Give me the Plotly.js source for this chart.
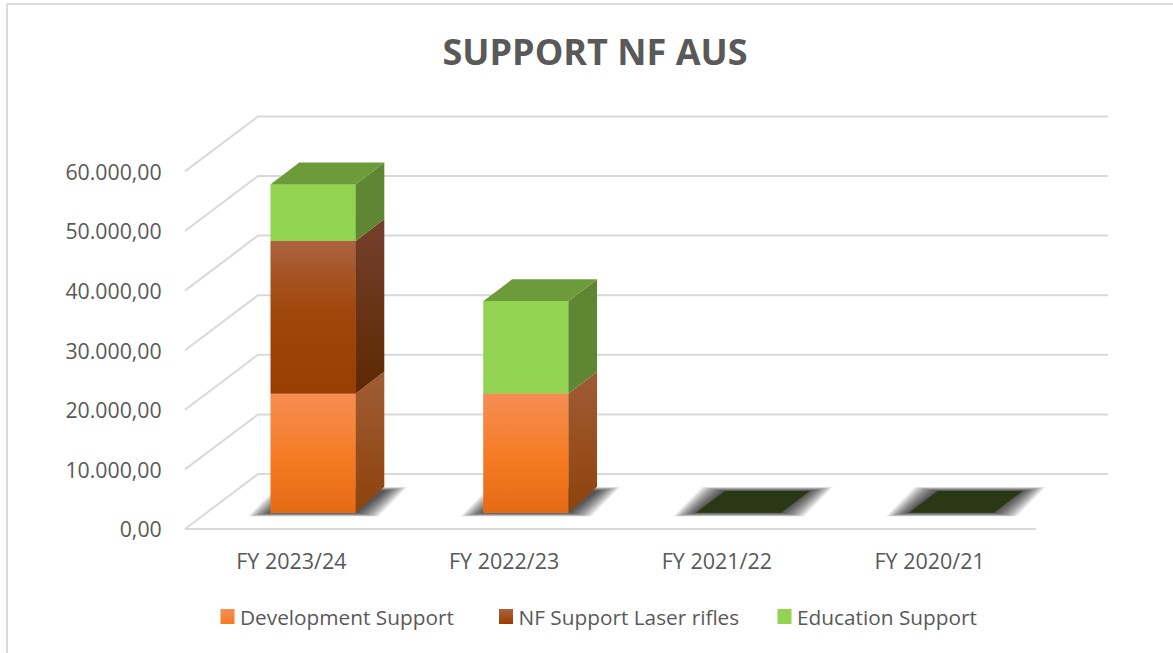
<!DOCTYPE html>
<html>
<head>
<meta charset="utf-8">
<script src="https://cdn.plot.ly/plotly-3.0.1.min.js"></script>
<style>html,body{margin:0;padding:0;background:#fff;overflow:hidden}</style>
</head>
<body>
<div id="chart" style="width:1173px;height:653px"></div>
<script>
// ---- data ----
const categories = ['FY 2023/24', 'FY 2022/23', 'FY 2021/22', 'FY 2020/21'];
const development = [20000, 20000, 0, 0];
const nfLaser = [25600, 0, 0, 0];
const education = [9500, 15500, 0, 0];
const gridValues = [0, 10000, 20000, 30000, 40000, 50000, 60000];

// ---- styles ----
const seriesNames = ['Development Support', 'NF Support Laser rifles', 'Education Support'];
const legendColors = ['#F6802E', '#A34B18', '#92D351'];
const legendGradients = [['#F68D55', '#F57B22'], ['#AD6240', '#9A3D00'], ['#92D351', '#92D351']];
const frontScales = [
  [[0, '#E56A14'], [0.45, '#F57B22'], [1, '#F68D55']],
  [[0, '#9A3D00'], [0.55, '#A0470C'], [1, '#AD6240']],
  [[0, '#92D351'], [1, '#92D351']]
];
const sideScales = [
  [[0, '#8E430C'], [1, '#A05C34']],
  [[0, '#5E2800'], [1, '#74402C']],
  [[0, '#5F8733'], [1, '#5F8733']]
];
const topColors = ['#9E5A30', '#74402C', '#6E9B3A'];
const zeroTopColor = '#2A3816';
const gridColor = '#D9D9D9';
const textColor = '#595959';
const fontFamily = '"Open Sans", "Noto Sans", sans-serif';

// ---- pixel geometry of the oblique projection ----
const W = 1173, H = 653;
const pxCat = 212.75, px10k = 59.6;
const plotL = 180, plotR = 1125, plotB = 536, plotT = 108;
const originX = 185, originY = 529;
const u = p => p / pxCat;                 // pixels to category units
const v = p => p / px10k * 10000;         // pixels to value units
const xRange = [u(plotL - originX), u(plotR - originX)];
const yRange = [-v(plotB - originY), v(originY - plotT)];

const wallDx = u(73), wallDy = v(55), floorFront = u(851), wallRight = u(923);
const barLeft = u(85.7), barW = u(85), barBase = v(16.3);
const depthDx = u(28.6), depthDy = v(21.8), baseSideDy = v(26);

// ---- grid and shadows are shapes, so they stay below the bars ----
const shapes = [];
const frameLine = (x0, y0, x1, y1) => ({
  type: 'line', xref: 'paper', yref: 'paper', layer: 'below',
  x0: (x0 - plotL) / (plotR - plotL), x1: (x1 - plotL) / (plotR - plotL),
  y0: (plotB - y0) / (plotB - plotT), y1: (plotB - y1) / (plotB - plotT),
  line: {color: '#DCDCDC', width: 2}
});
shapes.push(frameLine(7, 4, 7, 653), frameLine(7, 4, 1173, 4));

gridValues.forEach(val => {
  const pts = [[0, val], [wallDx, val + wallDy], [wallRight, val + wallDy]];
  const path = 'M' + pts.map(p => p[0] + ',' + p[1]).join('L');
  shapes.push({type: 'path', xref: 'x', yref: 'y', layer: 'below', path: path,
    line: {color: gridColor, width: 2}});
});
shapes.push({type: 'line', xref: 'x', yref: 'y', layer: 'below', x0: 0, x1: floorFront, y0: 0, y1: 0,
  line: {color: gridColor, width: 2}});

const shadowLayers = 18;
categories.forEach((c, i) => {
  const l = i + barLeft;
  for (let k = shadowLayers; k >= 1; k--) {
    const t = k / shadowLayers;
    const ex = u(23 * t), ey = v(3.8 * t);
    const path = 'M' + (l - ex) + ',' + (barBase - ey) +
      'L' + (l + barW + ex) + ',' + (barBase - ey) +
      'L' + (l + barW + depthDx + ex) + ',' + (barBase + depthDy + ey) +
      'L' + (l + depthDx - ex) + ',' + (barBase + depthDy + ey) + 'Z';
    shapes.push({type: 'path', xref: 'x', yref: 'y', layer: 'below', path: path,
      fillcolor: 'rgba(0,0,0,0.055)', line: {width: 0}});
  }
});

// ---- traces ----
const traces = [];
const series = [development, nfLaser, education];
const barX = categories.map((c, i) => i + barLeft + barW / 2);
const cumulative = categories.map(() => 0);
const faces = [];

series.forEach((vals, s) => {
  const bases = vals.map((val, i) => barBase + cumulative[i]);
  traces.push({
    type: 'bar', name: seriesNames[s], x: barX, y: vals, base: bases, width: barW,
    marker: {color: legendColors[s], line: {width: 0}}, hoverinfo: 'skip'
  });
  vals.forEach((val, i) => {
    if (val > 0) {
      const l = i + barLeft, r = l + barW;
      const lo = barBase + cumulative[i], hi = lo + val;
      const loLift = cumulative[i] === 0 ? baseSideDy : depthDy;
      faces.push({
        x: [l, r, r, l, l], y: [lo, lo, hi, hi, lo],
        fillgradient: {type: 'vertical', colorscale: frontScales[s]}
      });
      faces.push({
        x: [r, r + depthDx, r + depthDx, r, r], y: [lo, lo + loLift, hi + depthDy, hi, lo],
        fillgradient: {type: 'vertical', colorscale: sideScales[s]}
      });
    }
  });
  vals.forEach((val, i) => { cumulative[i] += val; });
});

// top face of every stack, coloured by the highest non-empty series
categories.forEach((c, i) => {
  const l = i + barLeft, r = l + barW, hi = barBase + cumulative[i];
  let color = zeroTopColor;
  series.forEach((vals, s) => { if (vals[i] > 0) color = topColors[s]; });
  faces.push({
    x: [l, r, r + depthDx, l + depthDx, l], y: [hi, hi, hi + depthDy, hi + depthDy, hi],
    fillcolor: color
  });
});

faces.forEach(f => traces.push(Object.assign({
  type: 'scatter', mode: 'lines', fill: 'toself', line: {width: 0},
  showlegend: false, hoverinfo: 'skip'
}, f)));

const layout = {
  width: W, height: H,
  paper_bgcolor: '#fff', plot_bgcolor: 'rgba(0,0,0,0)',
  margin: {l: plotL, r: W - plotR, t: plotT, b: H - plotB, pad: 0},
  separators: ',.',
  barmode: 'overlay',
  showlegend: true,
  font: {family: fontFamily, color: textColor, size: 18},
  title: {
    text: '<b>SUPPORT NF AUS</b>', xref: 'container', yref: 'container',
    x: 595 / W, xanchor: 'center', y: 1 - 52 / H, yanchor: 'middle',
    font: {family: fontFamily, size: 36, color: textColor}
  },
  xaxis: {
    type: 'linear', range: xRange, autorange: false, showgrid: false, zeroline: false, showline: false,
    tickmode: 'array', tickvals: categories.map((c, i) => i + 0.5), ticktext: categories,
    ticks: 'outside', ticklen: 6, tickcolor: 'rgba(0,0,0,0)',
    tickfont: {family: fontFamily, size: 21.5, color: textColor}
  },
  yaxis: {
    range: yRange, autorange: false, showgrid: false, zeroline: false, showline: false,
    tickmode: 'array', tickvals: gridValues, tickformat: ',.2f',
    ticks: 'outside', ticklen: 13, tickcolor: 'rgba(0,0,0,0)',
    tickfont: {family: fontFamily, size: 21.3, color: textColor}
  },
  legend: {
    orientation: 'h', xref: 'container', yref: 'container',
    x: 200 / W, xanchor: 'left', y: 1 - 617 / H, yanchor: 'middle',
    entrywidth: 233.5, entrywidthmode: 'pixels', itemwidth: 30,
    traceorder: 'normal', font: {family: fontFamily, size: 20.8, color: textColor},
    itemclick: false, itemdoubleclick: false
  },
  shapes: shapes
};

Plotly.newPlot('chart', traces, layout, {displayModeBar: false, staticPlot: true}).then(gd => {
  // nudge the y labels onto the reference baseline
  gd.querySelectorAll('.yaxislayer-above').forEach(g => g.setAttribute('transform', 'translate(0,1)'));
  // legend swatches: closer to the text, slightly larger, with the bars' gradient
  const svg = gd.querySelector('.main-svg');
  const defs = svg.querySelector('defs');
  const ns = 'http://www.w3.org/2000/svg';
  gd.querySelectorAll('.legend .legendpoints path').forEach((p, idx) => {
    const pair = legendGradients[idx];
    if (!pair) return;
    const g = document.createElementNS(ns, 'linearGradient');
    g.setAttribute('id', 'swatch' + idx);
    g.setAttribute('x1', '0'); g.setAttribute('y1', '0');
    g.setAttribute('x2', '0'); g.setAttribute('y2', '1');
    pair.forEach((col, j) => {
      const st = document.createElementNS(ns, 'stop');
      st.setAttribute('offset', String(j));
      st.setAttribute('stop-color', col);
      g.appendChild(st);
    });
    defs.appendChild(g);
    p.setAttribute('d', 'M7,7.5H-7V-7.5H7Z');
    p.setAttribute('transform', 'translate(27.5,0)');
    p.style.fill = 'url(#swatch' + idx + ')';
  });
});
</script>
</body>
</html>
